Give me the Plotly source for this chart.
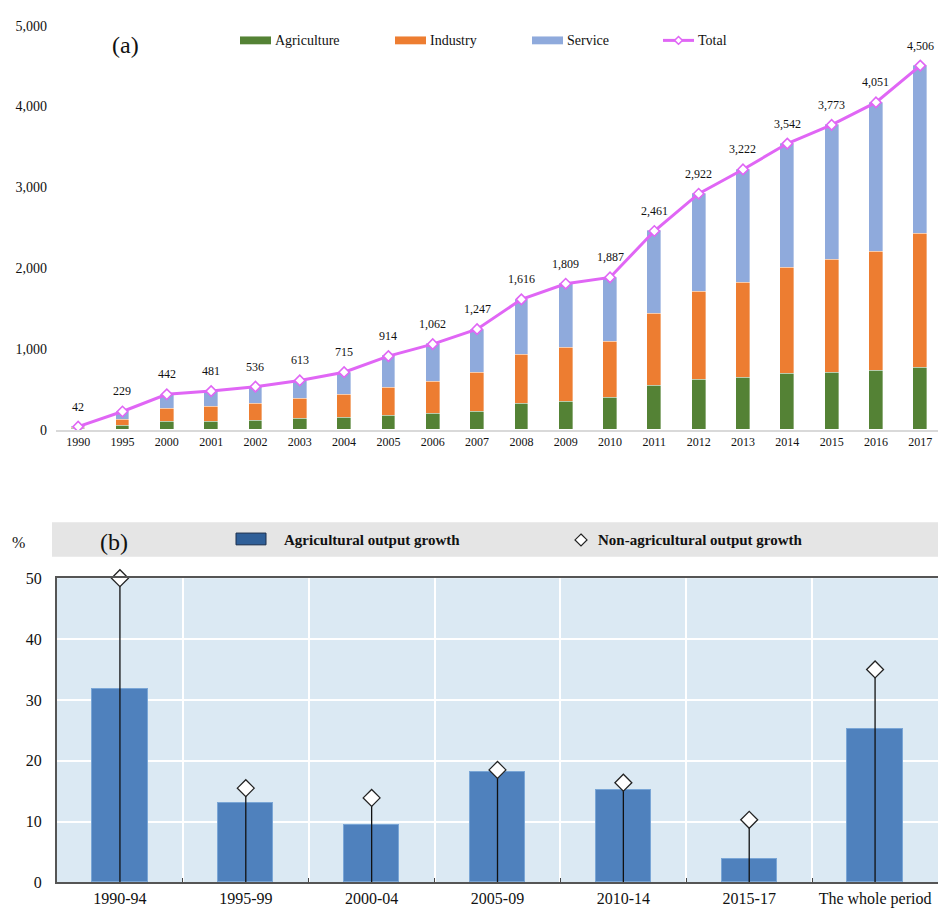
import plotly.graph_objects as go

# ---- Panel (a): output by sector ----
years = ["1990", "1995", "2000", "2001", "2002", "2003", "2004", "2005", "2006", "2007",
         "2008", "2009", "2010", "2011", "2012", "2013", "2014", "2015", "2016", "2017"]
agriculture = [18, 55, 103, 100, 115, 140, 152, 176, 197, 228,
               322, 350, 394, 544, 625, 643, 698, 710, 731, 767]
industry = [16, 70, 162, 189, 207, 246, 287, 344, 403, 482,
            606, 672, 696, 894, 1092, 1183, 1307, 1399, 1472, 1666]
total = [42, 229, 442, 481, 536, 613, 715, 914, 1062, 1247,
         1616, 1809, 1887, 2461, 2922, 3222, 3542, 3773, 4051, 4506]
service = [t - a - i for t, a, i in zip(total, agriculture, industry)]

# ---- Panel (b): growth by period ----
periods = ["1990-94", "1995-99", "2000-04", "2005-09", "2010-14", "2015-17", "The whole period"]
agri_growth = [31.8, 13.1, 9.4, 18.2, 15.2, 3.9, 25.2]
nonagri_growth = [50.0, 15.5, 13.9, 18.5, 16.4, 10.3, 35.0]

SERIF = "Liberation Serif, Times New Roman, serif"
W, H = 938, 916
C_AG, C_IND, C_SRV, C_TOT = "#548235", "#ed7d31", "#8faadc", "#e066f5"
C_BAR = "#4f81bd"


def px(x):
    return x / W


def py(y):
    return 1 - y / H


fig = go.Figure()

bar_w = 0.31
for name, vals, col in [("Agriculture", agriculture, C_AG),
                        ("Industry", industry, C_IND),
                        ("Service", service, C_SRV)]:
    fig.add_trace(go.Bar(x=years, y=vals, name=name, marker_color=col,
                         marker_line=dict(color="rgba(255,255,255,0.6)", width=0.6),
                         width=bar_w, xaxis="x", yaxis="y", showlegend=False))

fig.add_trace(go.Scatter(x=years, y=total, name="Total", mode="lines+markers",
                         line=dict(color=C_TOT, width=3),
                         marker=dict(symbol="diamond", size=8, color="white",
                                     line=dict(color=C_TOT, width=1.6)),
                         xaxis="x", yaxis="y", showlegend=False))

annotations = []
# value labels above the total line (category index used as x position)
for i, t in enumerate(total):
    annotations.append(dict(x=i, y=t, xref="x", yref="y", text=f"{t:,}",
                            showarrow=False, yshift=20,
                            font=dict(family=SERIF, size=12, color="#111")))

# Panel (b) bars, stems and diamonds
fig.add_trace(go.Bar(x=periods, y=agri_growth, name="Agricultural output growth",
                     marker_color=C_BAR, marker_line=dict(color="#7aa6d6", width=1),
                     width=0.44, xaxis="x2", yaxis="y2", showlegend=False))

stem_x, stem_y = [], []
for p, v in zip(periods, nonagri_growth):
    stem_x += [p, p, None]
    stem_y += [0, v, None]
fig.add_trace(go.Scatter(x=stem_x, y=stem_y, mode="lines",
                         line=dict(color="#111", width=1.3),
                         xaxis="x2", yaxis="y2", showlegend=False, hoverinfo="skip"))
fig.add_trace(go.Scatter(x=periods, y=nonagri_growth, mode="markers",
                         name="Non-agricultural output growth",
                         marker=dict(symbol="diamond", size=13, color="white",
                                     line=dict(color="#222", width=1.3)),
                         xaxis="x2", yaxis="y2", showlegend=False, cliponaxis=False))

shapes = []

# Legend for panel (a)
leg_y = 33
for x0, label, col in [(240, "Agriculture", C_AG), (395, "Industry", C_IND),
                       (532, "Service", C_SRV)]:
    shapes.append(dict(type="rect", xref="paper", yref="paper",
                       x0=px(x0), x1=px(x0 + 31), y0=py(leg_y + 4), y1=py(leg_y - 4),
                       fillcolor=col, line=dict(width=0)))
    annotations.append(dict(x=px(x0 + 33), y=py(leg_y), xref="paper", yref="paper",
                            text=label, showarrow=False, xanchor="left", yanchor="middle",
                            font=dict(family=SERIF, size=14, color="#111")))
shapes.append(dict(type="line", xref="paper", yref="paper",
                   x0=px(663), x1=px(694), y0=py(leg_y), y1=py(leg_y),
                   line=dict(color=C_TOT, width=3)))
shapes.append(dict(type="path", xref="paper", yref="paper",
                   path=f"M {px(678.5)},{py(leg_y - 4)} L {px(682.5)},{py(leg_y)} "
                        f"L {px(678.5)},{py(leg_y + 4)} L {px(674.5)},{py(leg_y)} Z",
                   fillcolor="white", line=dict(color=C_TOT, width=1.5)))
annotations.append(dict(x=px(696), y=py(leg_y), xref="paper", yref="paper",
                        text="Total", showarrow=False, xanchor="left", yanchor="middle",
                        font=dict(family=SERIF, size=14, color="#111")))
annotations.append(dict(x=px(110), y=py(38), xref="paper", yref="paper", text="(a)",
                        showarrow=False, xanchor="left", yanchor="middle",
                        font=dict(family=SERIF, size=24, color="#111")))

# Legend band for panel (b)
shapes.append(dict(type="rect", xref="paper", yref="paper", layer="below",
                   x0=px(52), x1=1, y0=py(559), y1=py(524),
                   fillcolor="#e5e5e5", line=dict(width=0)))
shapes.append(dict(type="rect", xref="paper", yref="paper",
                   x0=px(236), x1=px(266), y0=py(547), y1=py(535),
                   fillcolor="#2f5f98", line=dict(color="#1b2f4d", width=1)))
annotations.append(dict(x=px(282), y=py(542), xref="paper", yref="paper",
                        text="<b>Agricultural output growth</b>", showarrow=False,
                        xanchor="left", yanchor="middle",
                        font=dict(family=SERIF, size=15, color="#111")))
shapes.append(dict(type="path", xref="paper", yref="paper",
                   path=f"M {px(581)},{py(536)} L {px(587)},{py(542)} "
                        f"L {px(581)},{py(548)} L {px(575)},{py(542)} Z",
                   fillcolor="white", line=dict(color="#222", width=1.2)))
annotations.append(dict(x=px(596), y=py(542), xref="paper", yref="paper",
                        text="<b>Non-agricultural output growth</b>", showarrow=False,
                        xanchor="left", yanchor="middle",
                        font=dict(family=SERIF, size=15, color="#111")))
annotations.append(dict(x=px(98), y=py(544), xref="paper", yref="paper", text="(b)",
                        showarrow=False, xanchor="left", yanchor="middle",
                        font=dict(family=SERIF, size=24, color="#111")))
annotations.append(dict(x=px(10), y=py(545), xref="paper", yref="paper", text="%",
                        showarrow=False, xanchor="left", yanchor="middle",
                        font=dict(family=SERIF, size=16, color="#111")))

fig.update_layout(
    width=W, height=H,
    margin=dict(l=0, r=0, t=0, b=0),
    paper_bgcolor="white",
    plot_bgcolor="white",
    barmode="stack",
    bargap=0,
    showlegend=False,
    font=dict(family=SERIF, color="#111"),
    shapes=shapes,
    annotations=annotations,
    xaxis=dict(domain=[px(56), 1], range=[-0.5, 19.4], type="category",
               showgrid=False, showline=True, linecolor="#d9d9d9", linewidth=1.5,
               ticks="", tickfont=dict(family=SERIF, size=12, color="#111"),
               zeroline=False),
    yaxis=dict(domain=[py(430), py(18)], range=[0, 5000], tickvals=[0, 1000, 2000, 3000, 4000, 5000],
               tickformat=",", showgrid=False, zeroline=False, showline=False,
               ticks="", ticklabelstandoff=8,
               tickfont=dict(family=SERIF, size=14, color="#111")),
    xaxis2=dict(domain=[px(57), 1], anchor="y2", type="category", range=[-0.5, 6.5],
                showgrid=True, gridcolor="white", gridwidth=1.5, tickson="boundaries",
                ticks="inside", ticklen=4, tickcolor="#444",
                showline=True, linecolor="#555", linewidth=2, mirror=True,
                tickfont=dict(family=SERIF, size=16, color="#111")),
    yaxis2=dict(domain=[py(891), py(581)], anchor="x2", range=[0, 50],
                tickvals=[0, 10, 20, 30, 40, 50], showgrid=True, gridcolor="white",
                gridwidth=1.5, zeroline=False, showline=True, linecolor="#555",
                linewidth=2, ticks="", ticklabelstandoff=10,
                tickfont=dict(family=SERIF, size=16, color="#111")),
)
# light blue backdrop for the lower panel
fig.add_shape(type="rect", xref="x2 domain", yref="y2 domain", x0=0, x1=1, y0=0, y1=1,
              fillcolor="#dbe9f3", line=dict(width=0), layer="below")

fig.write_html("out.html")
